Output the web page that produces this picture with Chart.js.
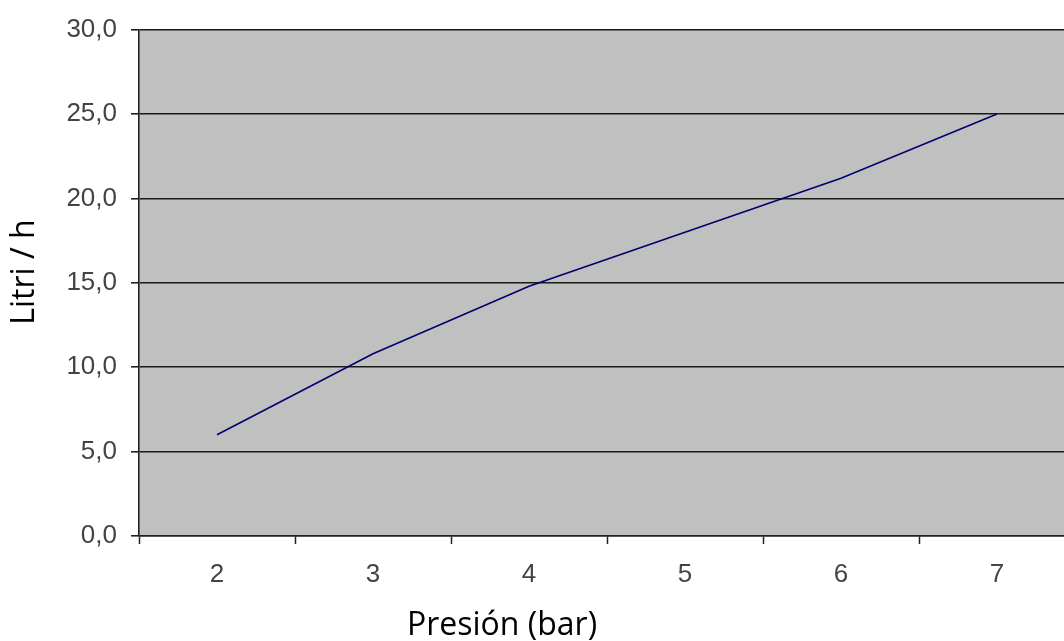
<!DOCTYPE html>
<html>
<head>
<meta charset="utf-8">
<script src="https://cdn.jsdelivr.net/npm/chart.js@4"></script>
<style>
  html, body { margin: 0; padding: 0; background: #fff; overflow: hidden; }
  #box { position: absolute; left: 0; top: 0; width: 1090px; height: 641px; }
</style>
</head>
<body>
<div id="box"><canvas id="grafico"></canvas></div>
<script>
// dati
const pressioni = ['2', '3', '4', '5', '6', '7']
const litriOra = [6.0, 10.8, 14.8, 18.0, 21.2, 25.0]
const tickY = [0, 5, 10, 15, 20, 25, 30]
const titoloX = 'Presión (bar)'
const titoloY = 'Litri / h'

// sfondo grigio dell'area del grafico
const sfondo = {
  id: 'sfondo',
  beforeDraw(chart) {
    const a = chart.chartArea
    const ctx = chart.ctx
    ctx.save()
    ctx.fillStyle = '#c0c0c0'
    ctx.fillRect(a.left, a.top, a.right - a.left, a.bottom - a.top)
    ctx.restore()
  }
}

// titoli degli assi (in excel non sono centrati sull'area del grafico)
const titoli = {
  id: 'titoli',
  afterDraw(chart) {
    const ctx = chart.ctx
    ctx.save()
    ctx.font = '32px "Open Sans", sans-serif'
    ctx.fillStyle = '#000'
    ctx.textAlign = 'center'
    ctx.textBaseline = 'alphabetic'
    ctx.fillText(titoloX, 502, 635)
    ctx.translate(34, 272)
    ctx.rotate(-Math.PI / 2)
    ctx.fillText(titoloY, 0, 0)
    ctx.restore()
  }
}

const fontTick = { family: '"Liberation Sans", Arial, sans-serif', size: 26 }

new Chart(document.getElementById('grafico'), {
  type: 'line',
  data: {
    labels: pressioni,
    datasets: [{
      data: litriOra,
      borderColor: '#000070',
      borderWidth: 1.6,
      pointRadius: 0,
      tension: 0,
      fill: false
    }]
  },
  options: {
    responsive: true,
    maintainAspectRatio: false,
    animation: false,
    events: [],
    layout: { padding: { top: 28, right: 15, bottom: 0, left: 0 } },
    plugins: { legend: { display: false }, tooltip: { enabled: false } },
    scales: {
      x: {
        type: 'category',
        offset: true,
        afterFit: s => { s.height = 105 },
        grid: {
          offset: true,
          drawOnChartArea: false,
          drawTicks: true,
          tickLength: 8,
          tickColor: '#222',
          tickWidth: 1.5
        },
        border: { color: '#222', width: 1.5 },
        ticks: { font: fontTick, color: '#444', padding: 15, maxRotation: 0 }
      },
      y: {
        min: 0,
        max: 30,
        afterFit: s => { s.width = 139 },
        afterBuildTicks: s => { s.ticks = tickY.map(v => ({ value: v })) },
        grid: {
          color: '#1a1a1a',
          lineWidth: 1.6,
          drawTicks: true,
          tickLength: 8,
          tickColor: '#222'
        },
        border: { color: '#222', width: 1.6 },
        ticks: {
          font: fontTick,
          color: '#444',
          padding: 14,
          callback: v => v.toFixed(1).replace('.', ',')
        }
      }
    }
  },
  plugins: [sfondo, titoli]
})
</script>
</body>
</html>
